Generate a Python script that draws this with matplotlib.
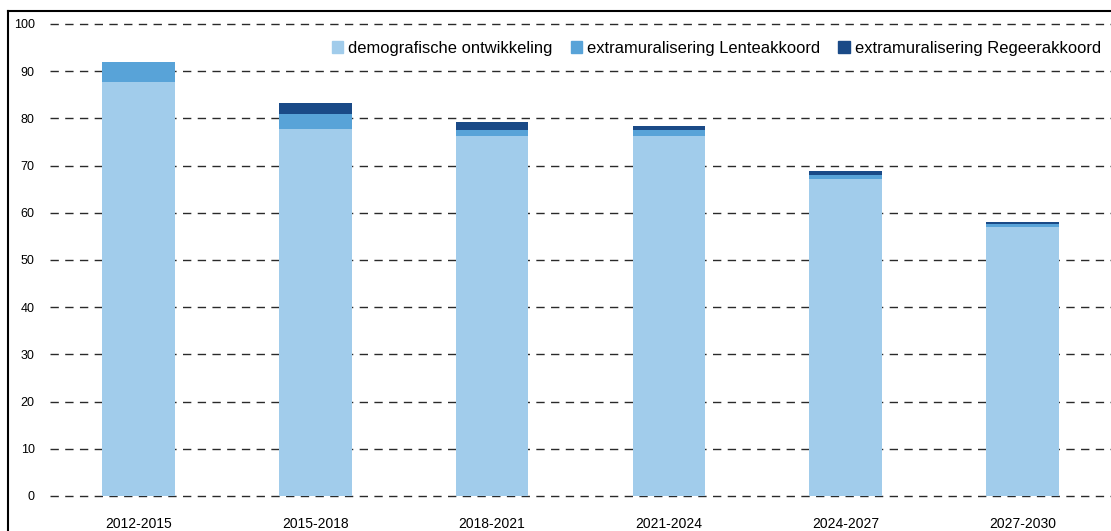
import matplotlib
matplotlib.use("Agg")
import matplotlib.pyplot as plt
import matplotlib.patches as mpatches
from matplotlib.lines import Line2D
import numpy as np

plt.rcParams['font.family'] = ['Liberation Sans', 'DejaVu Sans']
plt.rcParams['lines.scale_dashes'] = False

# data
periods = ['2012-2015', '2015-2018', '2018-2021', '2021-2024', '2024-2027', '2027-2030']
demografie = [87.7, 77.8, 76.3, 76.3, 67.2, 57.0]
lenteakkoord = [4.2, 3.1, 1.2, 1.2, 0.8, 0.6]
regeerakkoord = [0.0, 2.4, 1.7, 0.9, 0.8, 0.5]
series_names = ['demografische ontwikkeling', 'extramuralisering Lenteakkoord',
                'extramuralisering Regeerakkoord']
yticks = list(range(0, 101, 10))

colors = ['#A1CCEB', '#58A3D8', '#1A4A87']

fig = plt.figure(figsize=(11.11, 5.31), dpi=100)
ax = fig.add_axes([50 / 1111, 1 - 496 / 531, 1 - 50 / 1111, (496 - 24) / 531])

x = np.arange(len(periods))
w = 0.41
bottom = np.zeros(len(periods))
for vals, col, name in zip([demografie, lenteakkoord, regeerakkoord], colors, series_names):
    ax.bar(x, vals, w, bottom=bottom, color=col, label=name, zorder=2, linewidth=0)
    bottom += np.array(vals)

# dashed gridlines behind the bars
for yv in yticks:
    ax.axhline(yv, color='#2a2a2a', linewidth=1.0, dashes=(6.0, 4.6), zorder=1, clip_on=False)

ax.set_xlim(-0.5, len(periods) - 0.5)
ax.set_ylim(0, 100)
ax.set_yticks(yticks)
ax.set_xticks(x)
ax.set_xticklabels(periods, fontsize=10)
ax.tick_params(axis='y', length=0, pad=11, labelsize=9)
ax.tick_params(axis='x', length=0, pad=15)
for s in ax.spines.values():
    s.set_visible(False)

handles = [mpatches.Patch(color=c, label=n) for c, n in zip(colors, series_names)]
ax.legend(handles=handles, loc='upper right', bbox_to_anchor=(1.0, 0.986), ncol=3,
          frameon=False, fontsize=11.9, handlelength=0.7, handleheight=0.7,
          handletextpad=0.3, columnspacing=1.1, borderaxespad=0.2)

# outer chart frame (cut off at right and bottom)
fl = 8 / 1111
ft = 1 - 11 / 531
fig.add_artist(Line2D([fl, 1.0], [ft, ft], color='black', linewidth=1.5, transform=fig.transFigure))
fig.add_artist(Line2D([fl, fl], [0.0, ft], color='black', linewidth=1.5, transform=fig.transFigure))

fig.savefig('out.png', dpi=100)
